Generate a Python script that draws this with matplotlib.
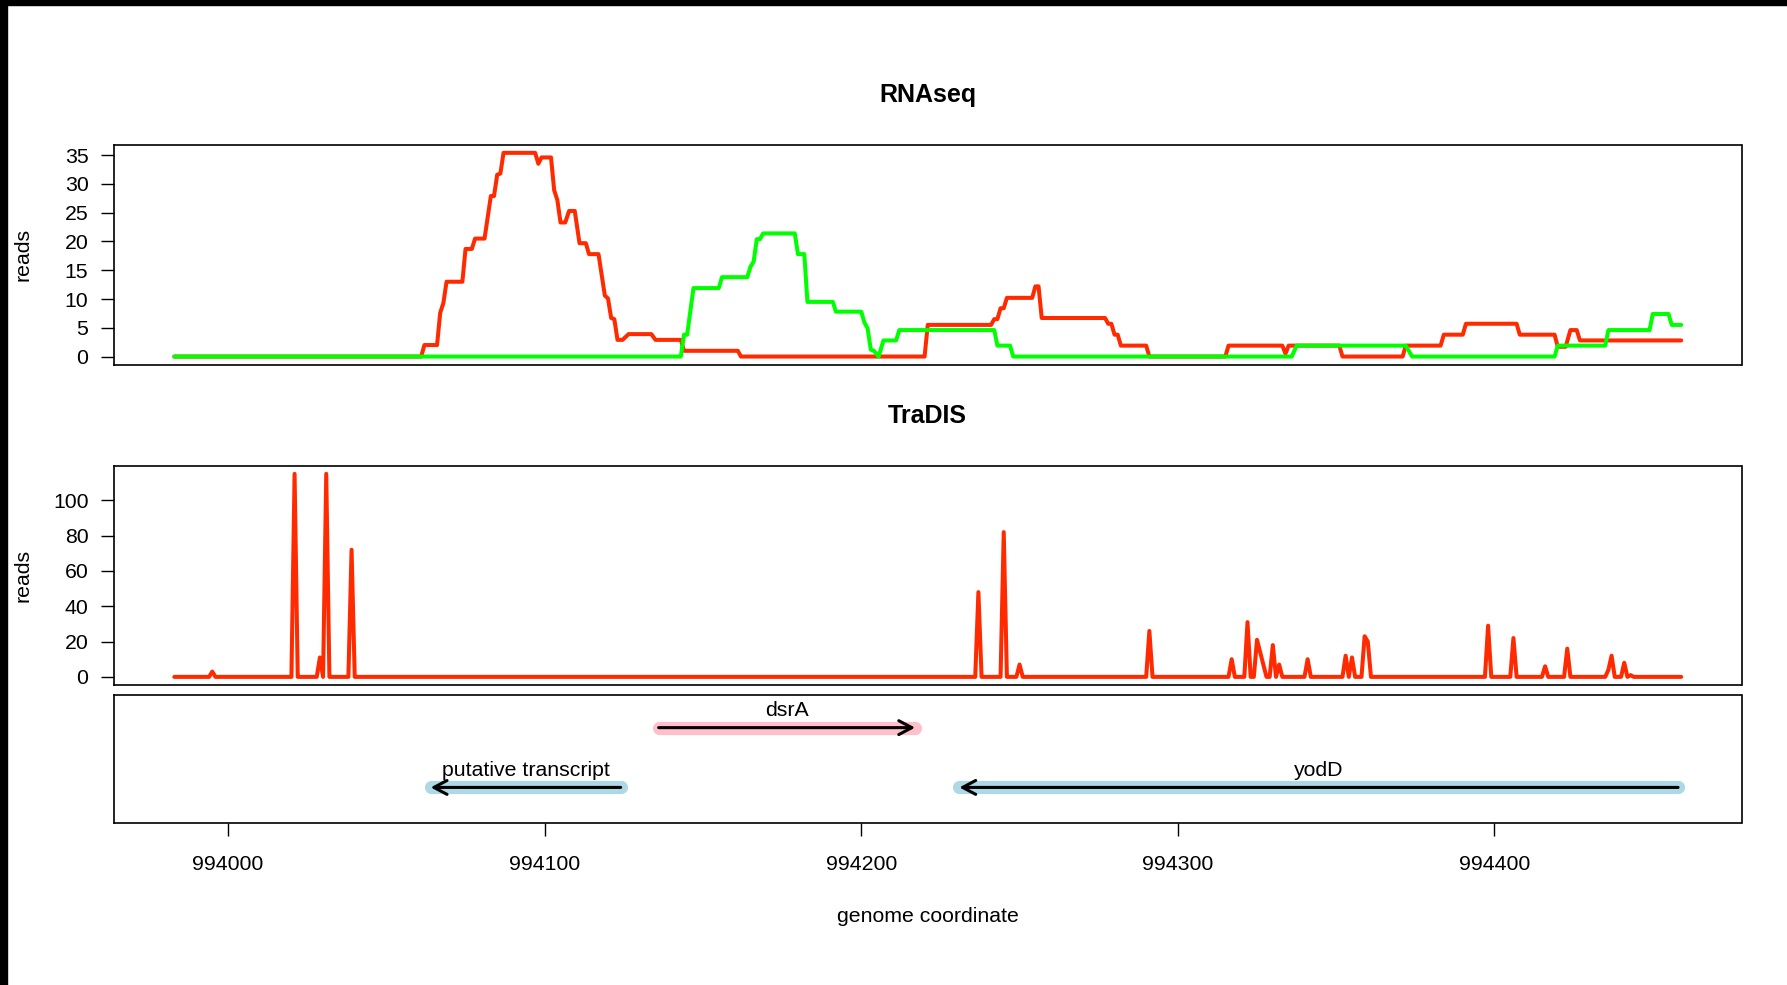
import numpy as np
import matplotlib
matplotlib.use('Agg')
import matplotlib.pyplot as plt
from matplotlib.patches import Rectangle

plt.rcParams['font.family'] = ['Liberation Sans', 'DejaVu Sans']
plt.rcParams['font.size'] = 15

# RNAseq coverage, plus strand (red)
red_pos = [993983, 994061, 994062, 994066, 994067, 994068, 994069, 994074,
           994075, 994077, 994078, 994081, 994083, 994084, 994085, 994086,
           994087, 994097, 994098, 994099, 994102, 994103, 994104, 994105,
           994106.5, 994107.7, 994109.5, 994111, 994113, 994114, 994117, 994119,
           994120, 994121, 994122, 994123, 994124.6, 994126.5, 994133.7, 994135,
           994143, 994144, 994161, 994162, 994220, 994221, 994241, 994242,
           994243, 994244, 994245, 994246, 994254, 994255, 994256, 994257,
           994277, 994278, 994279, 994280, 994281, 994282, 994290, 994291,
           994315, 994316, 994333, 994334, 994335, 994351, 994352, 994371,
           994372, 994383, 994384, 994390, 994391, 994407, 994408, 994419,
           994420, 994422.5, 994424, 994426, 994427, 994459]
red_reads = [0, 0, 2.0, 2.0, 7.6, 9.3, 13.0, 13.0,
             18.7, 18.7, 20.5, 20.5, 27.9, 27.9, 31.6, 31.8,
             35.4, 35.4, 33.5, 34.6, 34.6, 28.9, 27.2, 23.3,
             23.3, 25.3, 25.3, 19.7, 19.7, 17.8, 17.8, 10.6,
             10.1, 6.7, 6.5, 2.9, 2.9, 3.9, 3.9, 2.9,
             2.9, 1.0, 1.0, 0, 0, 5.5, 5.5, 6.5,
             6.5, 8.4, 8.4, 10.2, 10.2, 12.2, 12.2, 6.7,
             6.7, 5.7, 5.7, 3.8, 3.8, 1.9, 1.9, 0,
             0, 1.9, 1.9, 0.5, 1.9, 1.9, 0, 0,
             1.9, 1.9, 3.8, 3.8, 5.7, 5.7, 3.8, 3.8,
             1.7, 1.7, 4.6, 4.6, 2.8, 2.8]

# RNAseq coverage, minus strand (green)
green_pos = [993983, 994143, 994144, 994145, 994147, 994155, 994156, 994164,
             994165, 994166, 994167, 994168, 994169, 994179, 994180, 994182,
             994183, 994191, 994192, 994200, 994201, 994202, 994203, 994204,
             994205.5, 994207, 994211, 994212, 994242, 994243, 994247, 994248,
             994336, 994337.5, 994372, 994374, 994419, 994420, 994435, 994436,
             994449, 994450, 994455, 994456, 994459]
green_reads = [0, 0, 3.8, 3.8, 11.9, 11.9, 13.8, 13.8,
               15.6, 16.5, 20.4, 20.4, 21.4, 21.4, 17.8, 17.8,
               9.5, 9.5, 7.8, 7.8, 5.9, 4.9, 1.2, 1.0,
               0, 2.8, 2.8, 4.6, 4.6, 1.9, 1.9, 0,
               0, 1.9, 1.9, 0, 0, 1.9, 1.9, 4.6,
               4.6, 7.4, 7.4, 5.5, 5.5]

# TraDIS insertion reads, positions with reads > 0
tradis_first, tradis_last = 993983, 994459
tradis_hit_pos = [993995, 994021, 994029, 994031, 994039, 994237, 994245, 994250,
                  994291, 994317, 994322, 994325, 994326, 994327, 994330, 994332,
                  994341, 994353, 994355, 994359, 994360, 994398, 994406, 994416,
                  994423, 994436, 994437, 994441, 994443]
tradis_hit_reads = [3, 115, 11, 115, 72, 48, 82, 7,
                    26, 10, 31, 21, 14, 7, 18, 7,
                    10, 12, 11, 23, 20, 29, 22, 6,
                    16, 4, 12, 8, 1]

# annotated features
gene_names = ['dsrA', 'putative transcript', 'yodD']
gene_start = [994136, 994064, 994231]
gene_end = [994217, 994124, 994458]
gene_strand = ['+', '-', '-']
gene_fill = ['#FFC0CB', '#ADD8E6', '#ADD8E6']

x_ticks = [994000, 994100, 994200, 994300, 994400]
rna_ticks = [0, 5, 10, 15, 20, 25, 30, 35]
tradis_ticks = [0, 20, 40, 60, 80, 100]

RED = '#ff2a00'
GREEN = '#00ff00'


def r_range(lo, hi):
    # same 4% padding R uses for axis ranges
    d = (hi - lo) * 0.04
    return lo - d, hi + d


tradis_pos = np.arange(tradis_first, tradis_last + 1)
tradis_reads = np.zeros(len(tradis_pos))
tradis_reads[np.array(tradis_hit_pos) - tradis_first] = tradis_hit_reads

xlim = r_range(min(red_pos[0], tradis_first), max(red_pos[-1], tradis_last))

fig = plt.figure(figsize=(17.87, 9.85), dpi=100)
W, H = 1787.0, 985.0
left, right = 114 / W, 1741.5 / W
ax1 = fig.add_axes([left, 1 - 364.7 / H, right - left, 220 / H])
ax2 = fig.add_axes([left, 1 - 685 / H, right - left, 219.3 / H])
ax3 = fig.add_axes([left, 1 - 823 / H, right - left, 128 / H])

line_kw = dict(lw=2.9, solid_capstyle='round', solid_joinstyle='round')

ax1.plot(red_pos, red_reads, color=RED, **line_kw)
ax1.plot(green_pos, green_reads, color=GREEN, **line_kw)
ax1.set_ylim(*r_range(0, max(max(red_reads), max(green_reads))))
ax1.set_yticks(rna_ticks)

ax2.plot(tradis_pos, tradis_reads, color=RED, **line_kw)
ax2.set_ylim(*r_range(0, tradis_reads.max()))
ax2.set_yticks(tradis_ticks)

for ax, title in [(ax1, 'RNAseq'), (ax2, 'TraDIS')]:
    ax.set_xlim(*xlim)
    ax.tick_params(axis='x', bottom=False, labelbottom=False)
    ax.tick_params(axis='y', length=9.4, width=1, pad=9, labelsize=15.3)
    ax.text(0.5, 1.228, title, transform=ax.transAxes, ha='center', va='center',
            fontsize=18, fontweight='bold')
    ax.text(-0.056, 0.5, 'reads', transform=ax.transAxes, rotation=90,
            ha='center', va='center', fontsize=15.3)

# gene track
ax3.set_xlim(*xlim)
ax3.set_ylim(0, 1)
ax3.set_yticks([])
ax3.set_xticks(x_ticks)
ax3.set_xticklabels([str(t) for t in x_ticks])
ax3.tick_params(axis='x', length=9.4, width=1, pad=14, labelsize=15.3)

for name, s, e, strand, fill in zip(gene_names, gene_start, gene_end,
                                     gene_strand, gene_fill):
    y = 0.745 if strand == '+' else 0.278
    ax3.plot([s, e], [y, y], color=fill, lw=9.5, solid_capstyle='round')
    tail, tip = (s, e) if strand == '+' else (e, s)
    ax3.annotate('', xy=(tip, y), xytext=(tail, y),
                 arrowprops=dict(arrowstyle='->,head_length=9.4,head_width=5',
                                 mutation_scale=1, lw=2.2, color='black',
                                 shrinkA=0, shrinkB=0))
    ax3.text((s + e) / 2, y + 0.135, name, ha='center', va='center', fontsize=15.3)

ax3.text(0.5, -0.73, 'genome coordinate', transform=ax3.transAxes,
         ha='center', va='center', fontsize=15.3)

for ax in (ax1, ax2, ax3):
    for sp in ax.spines.values():
        sp.set_linewidth(1.2)

# dark strips along the top and left edge
fig.add_artist(Rectangle((0, 1 - 5 / H), 1, 5 / H, transform=fig.transFigure,
                         color='black', zorder=10))
fig.add_artist(Rectangle((0, 0), 7 / W, 1, transform=fig.transFigure,
                         color='black', zorder=10))

fig.savefig('out.png', dpi=100)
